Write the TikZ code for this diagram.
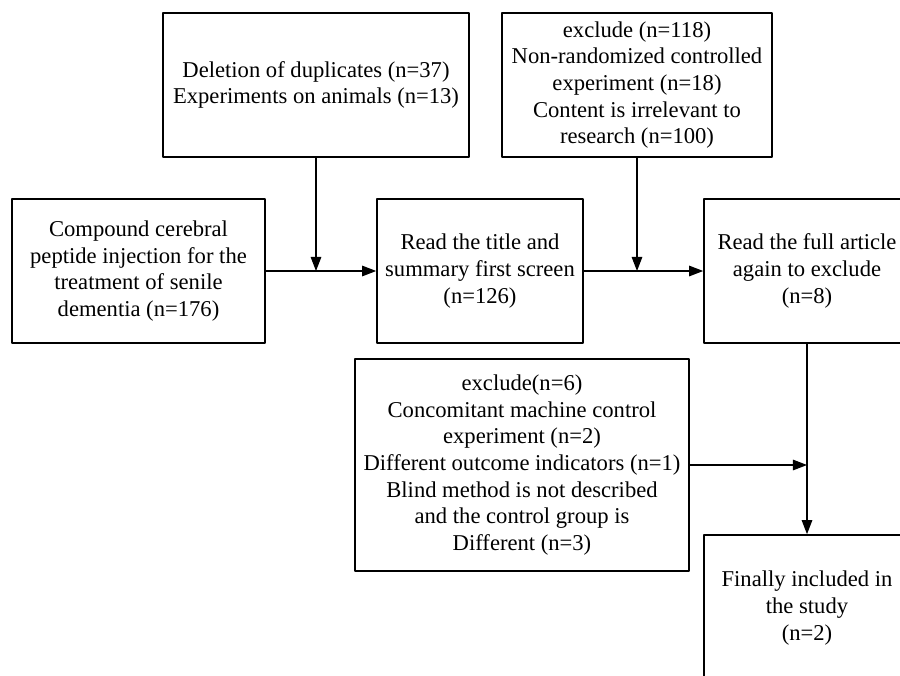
\documentclass[tikz,border=0pt]{standalone}
\usepackage{fontspec}
\setmainfont{Liberation Serif}
\usetikzlibrary{arrows.meta}

\begin{document}
\begin{tikzpicture}[line cap=round,line join=round,x=0.03cm,y=-0.03cm,
  >={Triangle[length=12pt,width=9pt]},
  box/.style={draw,line width=1.4pt,inner sep=0pt,align=center,
    font=\fontsize{19.3}{22.7}\selectfont},
  flow/.style={->,line width=1pt}]
\useasboundingbox (0,0) rectangle (900,675);
\clip (0,0) rectangle (900,675);
% upper exclusion boxes
\node [box,minimum width=9.18cm,minimum height=4.32cm] (dup) at (316,85)
  {Deletion of duplicates (n=37)\\Experiments on animals (n=13)};
\node [box,minimum width=8.1cm,minimum height=4.32cm] (excl) at (637,85)
  {exclude (n=118)\\Non-randomized controlled\\experiment (n=18)\\Content is irrelevant to\\research (n=100)};
% main row
\node [box,minimum width=7.59cm,minimum height=4.32cm] (start) at (138.5,271)
  {Compound cerebral\\peptide injection for the\\treatment of senile\\dementia (n=176)};
\node [box,minimum width=6.18cm,minimum height=4.32cm] (title) at (480,271)
  {Read the title and\\summary first screen\\(n=126)};
\node [box,minimum width=6.18cm,minimum height=4.32cm] (full) at (807,271)
  {Read the full article\\again to exclude\\(n=8)};
% lower part
\node [box,minimum width=10.02cm,minimum height=6.36cm] (excl2) at (522,465)
  {exclude(n=6)\\Concomitant machine control\\experiment (n=2)\\Different outcome indicators (n=1)\\Blind method is not described\\and the control group is\\Different (n=3)};
\node [box,minimum width=6.18cm,minimum height=4.38cm] (final) at (807,608)
  {Finally included in\\the study\\(n=2)};
% connectors
\draw [flow] (start.east) -- (title.west);
\draw [flow] (title.east) -- (full.west);
\draw [flow] (dup.south) -- (dup.south |- start.east);
\draw [flow] (excl.south) -- (excl.south |- title.east);
\draw [flow] (full.south) -- (final.north);
\draw [flow] (excl2.east) -- (excl2.east -| full.south);
\end{tikzpicture}
\end{document}
